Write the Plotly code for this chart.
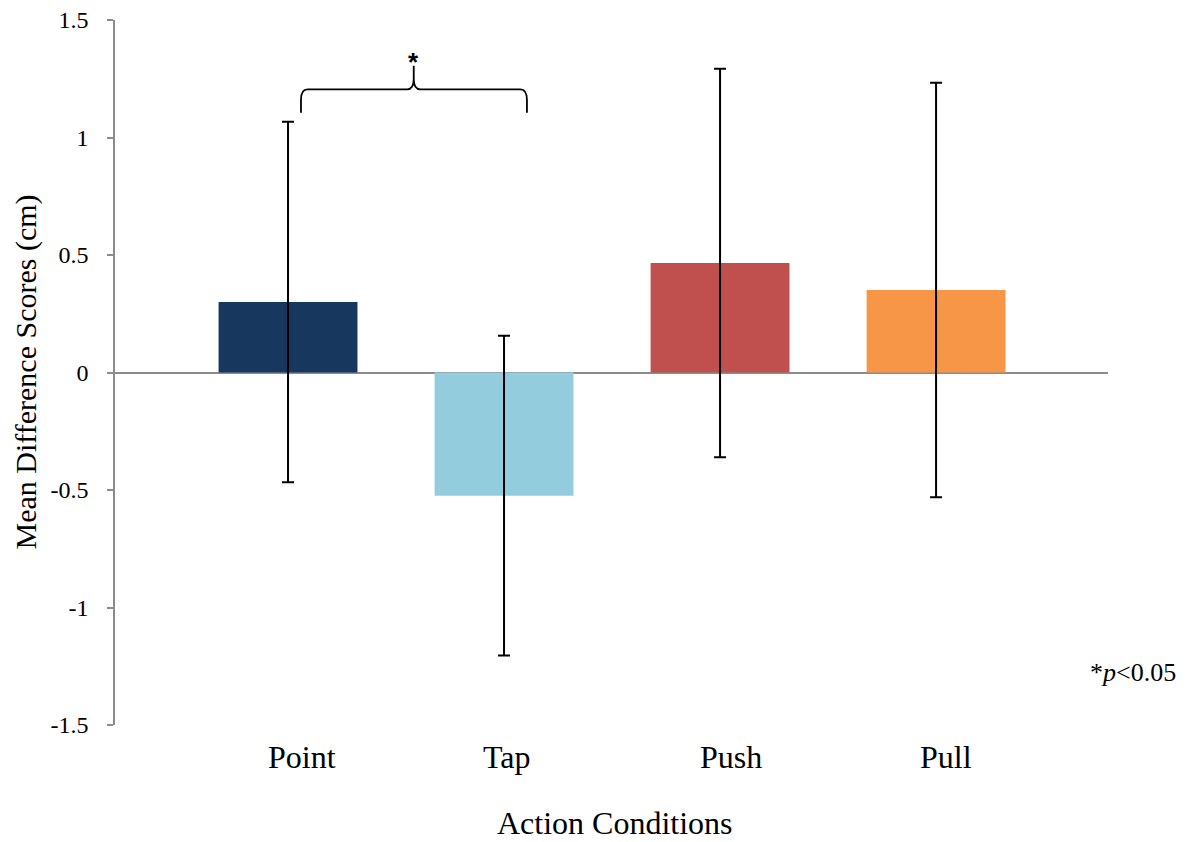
import plotly.graph_objects as go

categories = ["Point", "Tap", "Push", "Pull"]
means = [0.300, -0.524, 0.466, 0.351]
errors = [0.767, 0.680, 0.827, 0.882]
colors = ["#17375e", "#93cddd", "#c0504d", "#f79646"]
y_ticks = [-1.5, -1, -0.5, 0, 0.5, 1, 1.5]
y_ticktext = ["-1.5", "-1", "-0.5", "0", "0.5", "1", "1.5"]
# horizontal nudge of each category label (data units), as in the original
label_nudge = [0.065, 0.012, 0.049, 0.046]

# significance bracket between Point and Tap (data units)
brk_x0, brk_x1, brk_xm = 0.06, 1.106, 0.582
brk_yb, brk_yt, brk_ytip = 1.105, 1.205, 1.305

FONT = "Liberation Serif, Times New Roman, serif"
xs = list(range(len(categories)))

fig = go.Figure()
fig.add_trace(go.Bar(
    x=xs, y=means, width=0.643,
    marker=dict(color=colors, line=dict(width=0)),
    error_y=dict(type="data", array=errors, visible=True,
                 color="black", thickness=2, width=6),
    showlegend=False, hoverinfo="skip",
))

dx = 0.03
dy = 0.045
path = (f"M {brk_x0},{brk_yb} L {brk_x0},{brk_yt - dy} "
        f"Q {brk_x0},{brk_yt} {brk_x0 + dx},{brk_yt} "
        f"L {brk_xm - dx},{brk_yt} "
        f"Q {brk_xm},{brk_yt} {brk_xm},{brk_yt + dy} "
        f"L {brk_xm},{brk_ytip} "
        f"M {brk_xm},{brk_yt + dy} "
        f"Q {brk_xm},{brk_yt} {brk_xm + dx},{brk_yt} "
        f"L {brk_x1 - dx},{brk_yt} "
        f"Q {brk_x1},{brk_yt} {brk_x1},{brk_yt - dy} "
        f"L {brk_x1},{brk_yb}")
fig.add_shape(type="path", path=path, xref="x", yref="y",
              line=dict(color="black", width=1.8))
fig.add_annotation(x=brk_xm, y=brk_ytip, xref="x", yref="y", text="<b>*</b>",
                   showarrow=False, yanchor="bottom", yshift=-13,
                   font=dict(family="Liberation Sans, Arial, sans-serif", size=26, color="black"))
fig.add_annotation(x=1.0, y=0.0738, xref="paper", yref="paper",
                   text="*<i>p</i>&lt;0.05", showarrow=False,
                   xanchor="left", yanchor="middle", xshift=-20,
                   font=dict(family=FONT, size=26, color="black"))
# category labels
for xi, lab, nd in zip(xs, categories, label_nudge):
    fig.add_annotation(x=xi + nd, y=-0.0454, xref="x", yref="paper",
                       text=lab, showarrow=False,
                       xanchor="center", yanchor="middle",
                       font=dict(family=FONT, size=32, color="black"))
# axis titles
fig.add_annotation(x=0.5037, y=-0.1433, xref="paper", yref="paper",
                   text="Action Conditions", showarrow=False,
                   xanchor="center", yanchor="middle", yshift=3,
                   font=dict(family=FONT, size=32, color="black"))
fig.add_annotation(x=0, y=0.5, xref="paper", yref="paper",
                   text="Mean Difference Scores (cm)", showarrow=False,
                   textangle=-90, xanchor="center", yanchor="middle", xshift=-90,
                   font=dict(family=FONT, size=30, color="black"))

fig.update_layout(
    width=1194, height=842,
    margin=dict(l=115, r=86, t=20, b=117),
    paper_bgcolor="white", plot_bgcolor="white",
    font=dict(family=FONT, color="black"),
    hovermode=False,
    xaxis=dict(
        range=[-0.801, 3.796], tickvals=xs, showticklabels=False,
        showgrid=False, showline=False, zeroline=False, ticks="",
        automargin=False,
    ),
    yaxis=dict(
        range=[-1.5, 1.5], tickvals=y_ticks, ticktext=y_ticktext,
        showgrid=False, showline=True, linecolor="#8c8c8c", linewidth=1.5,
        ticks="outside", ticklen=6, tickcolor="#8c8c8c", tickwidth=1.5,
        zeroline=True, zerolinecolor="#8c8c8c", zerolinewidth=1.5,
        tickfont=dict(size=24, family=FONT, color="black"),
        ticklabelstandoff=14, automargin=False,
    ),
)

fig.write_html("out.html", config={"displayModeBar": False},
               post_script="document.body.style.margin='0';document.body.style.overflow='hidden';")
